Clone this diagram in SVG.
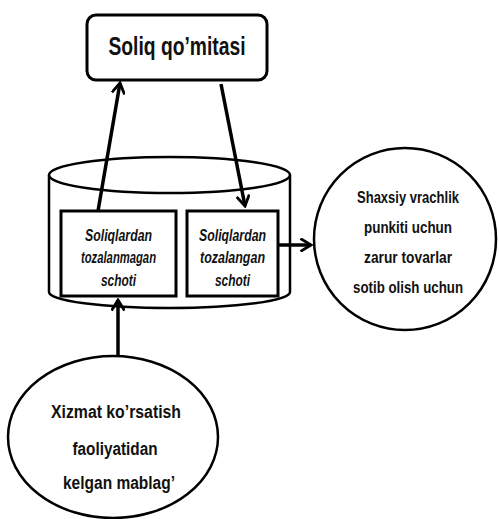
<svg xmlns="http://www.w3.org/2000/svg" width="499" height="519" viewBox="0 0 499 519">
  <style>
    .shape { fill: #ffffff; stroke: #000000; stroke-width: 3; }
    .thin { fill: #ffffff; stroke: #000000; stroke-width: 2.5; }
    .lbl { font-family: "Liberation Sans", "DejaVu Sans", sans-serif; font-weight: bold; fill: #111111; text-anchor: middle; }
    .it { font-style: italic; font-size: 16px; }
    .edge { fill: none; stroke: #000000; stroke-width: 3.5; }
  </style>
  <defs>
    <marker id="arrow" viewBox="0 0 12 12" refX="10" refY="6" markerWidth="4" markerHeight="4" orient="auto" markerUnits="strokeWidth">
      <path d="M1,0.5 L10,6 L1,11.5" fill="none" stroke="#000000" stroke-width="2.4" stroke-linejoin="miter"/>
    </marker>
  </defs>

  <g id="soliq-qomitasi">
    <rect class="shape" x="87" y="15" width="180" height="65" rx="9" ry="9" stroke-width="3.5"/>
    <text class="lbl" x="177" y="55" font-size="25" textLength="137" lengthAdjust="spacingAndGlyphs">Soliq qo’mitasi</text>
  </g>

  <g id="hisob-raqamlar">
    <!-- cylinder body -->
    <path class="thin" d="M49,175 L49,292 A120.5,16 0 0 0 290,292 L290,175"/>
    <ellipse class="thin" cx="169.5" cy="175" rx="120.5" ry="18"/>
  </g>

  <g id="tozalanmagan-schot">
    <rect class="shape" x="61" y="211" width="115" height="85"/>
    <text class="lbl it" x="118.5" y="241" textLength="67" lengthAdjust="spacingAndGlyphs">Soliqlardan</text>
    <text class="lbl it" x="118.5" y="263" textLength="75" lengthAdjust="spacingAndGlyphs">tozalanmagan</text>
    <text class="lbl it" x="118.5" y="286" textLength="35" lengthAdjust="spacingAndGlyphs">schoti</text>
  </g>

  <g id="tozalangan-schot">
    <rect class="shape" x="187" y="211" width="91" height="85"/>
    <text class="lbl it" x="232.5" y="241" textLength="67" lengthAdjust="spacingAndGlyphs">Soliqlardan</text>
    <text class="lbl it" x="232.5" y="263" textLength="65" lengthAdjust="spacingAndGlyphs">tozalangan</text>
    <text class="lbl it" x="232.5" y="286" textLength="35" lengthAdjust="spacingAndGlyphs">schoti</text>
  </g>

  <g id="vrachlik-punkti">
    <circle class="thin" cx="405" cy="239" r="91"/>
    <text class="lbl" x="408" y="203" font-size="17" textLength="102" lengthAdjust="spacingAndGlyphs">Shaxsiy vrachlik</text>
    <text class="lbl" x="408" y="233" font-size="17" textLength="88" lengthAdjust="spacingAndGlyphs">punkiti uchun</text>
    <text class="lbl" x="408" y="263" font-size="17" textLength="88" lengthAdjust="spacingAndGlyphs">zarur tovarlar</text>
    <text class="lbl" x="408" y="293" font-size="17" textLength="110" lengthAdjust="spacingAndGlyphs">sotib olish uchun</text>
  </g>

  <g id="xizmat-mablag">
    <ellipse class="thin" cx="113" cy="437" rx="105" ry="81"/>
    <text class="lbl" x="116" y="418" font-size="18" textLength="130" lengthAdjust="spacingAndGlyphs">Xizmat ko’rsatish</text>
    <text class="lbl" x="115" y="455" font-size="18" textLength="85" lengthAdjust="spacingAndGlyphs">faoliyatidan</text>
    <text class="lbl" x="119" y="489" font-size="18" textLength="112" lengthAdjust="spacingAndGlyphs">kelgan mablag’</text>
  </g>

  <g id="connectors">
    <line class="edge" x1="98" y1="211" x2="120" y2="83" marker-end="url(#arrow)"/>
    <line class="edge" x1="221" y1="84" x2="245" y2="206" marker-end="url(#arrow)"/>
    <line class="edge" x1="278" y1="245" x2="311" y2="245" marker-end="url(#arrow)"/>
    <line class="edge" x1="118" y1="356" x2="118" y2="300" marker-end="url(#arrow)"/>
  </g>
</svg>
